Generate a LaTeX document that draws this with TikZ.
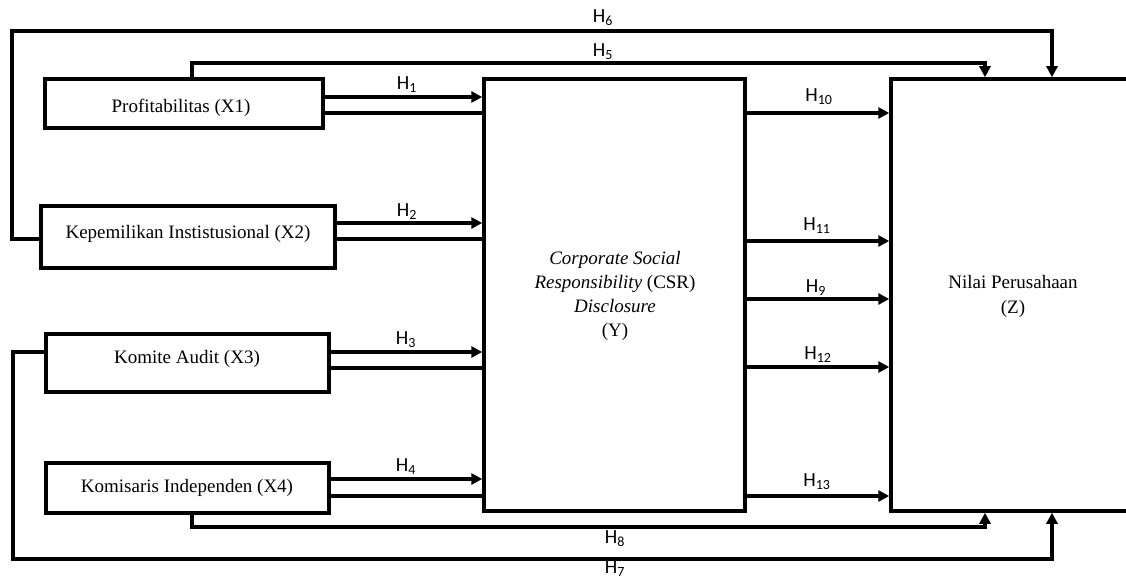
\documentclass[tikz,border=0pt]{standalone}
\usepackage{fontspec}
\setmainfont{Liberation Serif}
\newfontfamily\hfont{Carlito}
\usetikzlibrary{arrows.meta}
\begin{document}
\begin{tikzpicture}[x=1pt,y=-1pt,
  box/.style={draw, line width=3.5pt, inner sep=0pt},
  boxtxt/.style={font=\fontsize{19}{24}\selectfont, inner sep=0pt, anchor=base},
  conn/.style={line width=3.5pt},
  arr/.style={line width=3.5pt, -{Triangle[length=11pt,width=11pt]}},
  hlab/.style={font=\hfont\fontsize{20}{22}\selectfont, inner sep=0pt}]
\useasboundingbox (0,0) rectangle (1126,580);
% boxes
\node[box, minimum width=278pt, minimum height=49pt] (x1) at (184,103.5) {};
\node[box, minimum width=294pt, minimum height=62pt] (x2) at (188,237) {};
\node[box, minimum width=283pt, minimum height=58pt] (x3) at (187.5,363) {};
\node[box, minimum width=283pt, minimum height=50pt] (x4) at (187.5,488) {};
\node[box, minimum width=261pt, minimum height=432pt] (csr) at (614.5,295) {};
\node[box, minimum width=244pt, minimum height=432pt] (z) at (1013,295) {};
% texts
\node[boxtxt] (t1) at (181,113) {Profitabilitas (X1)};
\node[boxtxt] (t2) at (188,238) {Kepemilikan Instistusional (X2)};
\node[boxtxt] (t3) at (187,363) {Komite Audit (X3)};
\node[boxtxt] (t4) at (187,492) {Komisaris Independen (X4)};
\node[font=\fontsize{19}{24}\selectfont, align=center, inner sep=0pt] (tcsr) at (615,296)
  {\textit{Corporate Social}\\\textit{Responsibility} (CSR)\\\textit{Disclosure}\\(Y)};
\node[font=\fontsize{19}{25}\selectfont, align=center, inner sep=0pt] (tz) at (1013,296)
  {Nilai Perusahaan\\(Z)};
% helper coordinates
\coordinate (y1a) at (0,97);  \coordinate (y1b) at (0,113);
\coordinate (y2a) at (0,223); \coordinate (y2b) at (0,239);
\coordinate (y3a) at (0,352); \coordinate (y3b) at (0,368);
\coordinate (y4a) at (0,479); \coordinate (y4b) at (0,496);
\coordinate (r10) at (0,113); \coordinate (r11) at (0,241);
\coordinate (r9) at (0,299);  \coordinate (r12) at (0,367);
\coordinate (r13) at (0,496);
\coordinate (h5a) at (192,63);  \coordinate (h5b) at (985,63);
\coordinate (h6a) at (12,239);  \coordinate (h6b) at (12,31);  \coordinate (h6c) at (1052,31);
\coordinate (h7a) at (13,352);  \coordinate (h7b) at (13,559); \coordinate (h7c) at (1052,559);
\coordinate (h8a) at (192,527); \coordinate (h8b) at (985,527);
% left arrows
\draw[arr] (x1.east |- y1a) -- (csr.west |- y1a);
\draw[conn] (x1.east |- y1b) -- (csr.west |- y1b);
\draw[arr] (x2.east |- y2a) -- (csr.west |- y2a);
\draw[conn] (x2.east |- y2b) -- (csr.west |- y2b);
\draw[arr] (x3.east |- y3a) -- (csr.west |- y3a);
\draw[conn] (x3.east |- y3b) -- (csr.west |- y3b);
\draw[arr] (x4.east |- y4a) -- (csr.west |- y4a);
\draw[conn] (x4.east |- y4b) -- (csr.west |- y4b);
% right arrows
\draw[arr] (csr.east |- r10) -- (z.west |- r10);
\draw[arr] (csr.east |- r11) -- (z.west |- r11);
\draw[arr] (csr.east |- r9) -- (z.west |- r9);
\draw[arr] (csr.east |- r12) -- (z.west |- r12);
\draw[arr] (csr.east |- r13) -- (z.west |- r13);
% long paths
\draw[arr] (x1.north -| h5a) -- (h5a) -- (h5b) -- (z.north -| h5b);
\draw[arr] (x2.west |- h6a) -- (h6a) -- (h6b) -- (h6c) -- (z.north -| h6c);
\draw[arr] (x3.west |- h7a) -- (h7a) -- (h7b) -- (h7c) -- (z.south -| h7c);
\draw[arr] (x4.south -| h8a) -- (h8a) -- (h8b) -- (z.south -| h8b);
% labels
\node[hlab] (l1) at (407,85) {H\textsubscript{1}};
\node[hlab] (l2) at (407,212) {H\textsubscript{2}};
\node[hlab] (l3) at (406,340) {H\textsubscript{3}};
\node[hlab] (l4) at (406,467) {H\textsubscript{4}};
\node[hlab] (l5) at (603,52) {H\textsubscript{5}};
\node[hlab] (l6) at (603,18) {H\textsubscript{6}};
\node[hlab] (l7) at (615,569) {H\textsubscript{7}};
\node[hlab] (l8) at (615,539) {H\textsubscript{8}};
\node[hlab] (l9) at (816,288) {H\textsubscript{9}};
\node[hlab] (l10) at (819,97) {H\textsubscript{10}};
\node[hlab] (l11) at (817,226) {H\textsubscript{11}};
\node[hlab] (l12) at (818,355) {H\textsubscript{12}};
\node[hlab] (l13) at (817,482) {H\textsubscript{13}};
\end{tikzpicture}
\end{document}
